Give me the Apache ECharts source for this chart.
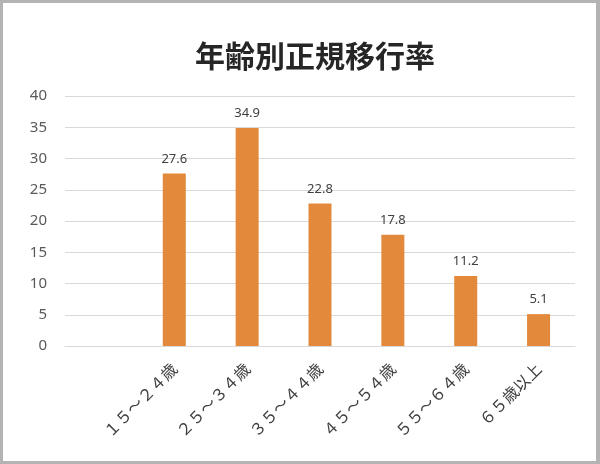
<!DOCTYPE html>
<html>
<head>
<meta charset="utf-8">
<script src="https://cdn.jsdelivr.net/npm/echarts@6/dist/echarts.min.js"></script>
<style>
    html, body { margin: 0; padding: 0; background: #fff; }
    .frame {
        width: 600px;
        height: 464px;
        box-sizing: border-box;
        border: 3px solid #b3b3b3;
        border-right-width: 4px;
        background: #fff;
    }
    #chart { width: 593px; height: 458px; }
</style>
</head>
<body>
<div class="frame"><div id="chart"></div></div>
<script>
// 年齢別正規移行率（先頭は空のカテゴリ）
const categories = ['', '１５～２４歳', '２５～３４歳', '３５～４４歳', '４５～５４歳', '５５～６４歳', '６５歳以上'];
const rates = [null, 27.6, 34.9, 22.8, 17.8, 11.2, 5.1];
const yTicks = { min: 0, max: 40, interval: 5 };

const myChart = echarts.init(document.getElementById('chart'));

const option = {
    animation: false,
    title: {
        text: '年齢別正規移行率',
        left: 187,
        top: 33,
        textStyle: {
            fontFamily: 'Noto Sans CJK JP',
            fontSize: 30,
            fontWeight: 'bold',
            color: '#262626'
        }
    },
    grid: {
        left: 62,
        right: 21,
        top: 93,
        bottom: 115
    },
    xAxis: {
        type: 'category',
        data: categories,
        axisLine: { lineStyle: { color: '#d9d9d9' } },
        axisTick: { show: false },
        axisLabel: {
            interval: 0,
            rotate: 45,
            margin: 20,
            fontFamily: 'Noto Sans CJK JP',
            fontSize: 16,
            color: '#404040'
        }
    },
    yAxis: {
        type: 'value',
        min: yTicks.min,
        max: yTicks.max,
        interval: yTicks.interval,
        axisLine: { show: false },
        axisTick: { show: false },
        splitLine: { lineStyle: { color: '#d9d9d9' } },
        axisLabel: {
            margin: 18,
            fontFamily: 'Noto Sans',
            fontSize: 15,
            color: '#595959'
        }
    },
    series: [
        {
            type: 'bar',
            data: rates,
            barWidth: 23,
            itemStyle: { color: '#E3893C' },
            label: {
                show: true,
                position: 'top',
                distance: 8,
                fontFamily: 'Noto Sans',
                fontSize: 13,
                color: '#404040'
            }
        }
    ]
};

myChart.setOption(option);
window.addEventListener('resize', () => myChart.resize());
</script>
</body>
</html>
